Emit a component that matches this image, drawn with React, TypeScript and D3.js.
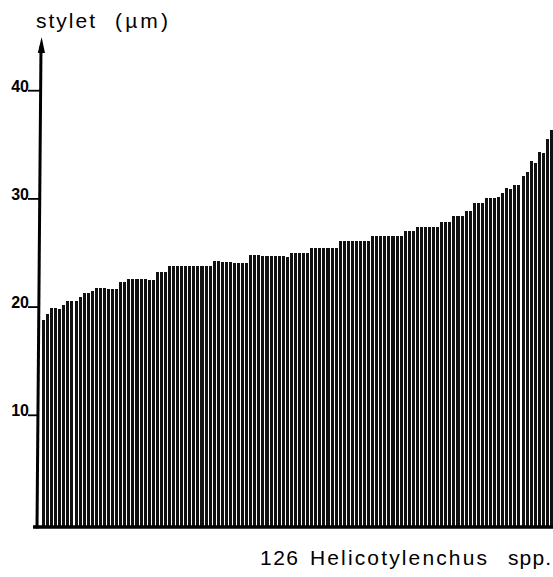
import React from "react";
import * as d3 from "d3";

// stylet length (µm) of 126 Helicotylenchus spp., sorted ascending
const styletValues: number[] = [
  18.8, 19.4, 19.9, 19.9, 19.8, 20.2, 20.6, 20.6, 20.6, 20.9,
  21.3, 21.3, 21.5, 21.8, 21.8, 21.8, 21.7, 21.7, 21.7, 22.3,
  22.3, 22.6, 22.6, 22.6, 22.6, 22.6, 22.5, 22.5, 23.2, 23.2,
  23.2, 23.8, 23.8, 23.8, 23.8, 23.8, 23.8, 23.8, 23.8, 23.8,
  23.8, 23.8, 24.3, 24.3, 24.2, 24.2, 24.2, 24.1, 24.1, 24.1,
  24.1, 24.8, 24.8, 24.8, 24.7, 24.7, 24.7, 24.7, 24.7, 24.7,
  24.6, 25.0, 25.0, 25.0, 25.0, 25.0, 25.5, 25.5, 25.5, 25.5,
  25.5, 25.5, 25.5, 26.1, 26.1, 26.1, 26.1, 26.1, 26.1, 26.1,
  26.1, 26.6, 26.6, 26.6, 26.6, 26.6, 26.6, 26.6, 26.6, 27.0,
  27.0, 27.0, 27.4, 27.4, 27.4, 27.4, 27.4, 27.4, 27.9, 27.9,
  27.9, 28.4, 28.4, 28.4, 28.9, 28.9, 29.6, 29.6, 29.6, 30.1,
  30.1, 30.1, 30.2, 30.5, 31.0, 30.9, 31.3, 31.3, 32.1, 32.5,
  33.5, 33.3, 34.3, 34.2, 35.5, 36.4,
];
const yTicks: number[] = [10, 20, 30, 40];
const yTitle = "stylet";
const yUnit = "(µm)";
const countLabel = "126";
const taxonLabel = "Helicotylenchus";
const sppLabel = "spp.";

const W = 553;
const H = 577;
const FONT = "'Liberation Sans', Arial, Helvetica, sans-serif";

export default function App() {
  const x = d3
    .scaleBand<number>()
    .domain(styletValues.map((_, i) => i))
    .range([42, 553])
    .paddingInner(0.25)
    .paddingOuter(0);
  const y = d3.scaleLinear().domain([0, 40]).range([523.5, 90.7]);
  const base = 527;

  return (
    <svg
      width={W}
      height={H}
      style={{ position: "absolute", left: 0, top: 0, background: "#fff" }}
    >
      <rect x={0} y={0} width={W} height={H} fill="#fff" />
      {/* bars */}
      <g fill="#111" shapeRendering="crispEdges">
        {styletValues.map((v, i) => (
          <rect
            key={i}
            x={x(i)!}
            y={y(v)}
            width={x.bandwidth()}
            height={base - y(v)}
          />
        ))}
      </g>
      {/* x axis */}
      <line x1={33} y1={527} x2={553} y2={527} stroke="#000" strokeWidth={3.5} />
      {/* y axis with arrow */}
      <line x1={37} y1={528.5} x2={41} y2={46} stroke="#000" strokeWidth={3} />
      <polygon points="41.6,37 37.8,53 45,53" fill="#000" />
      {/* ticks */}
      {yTicks.map((t) => {
        const ty = y(t);
        const ax = 37 + ((528.5 - ty) / (528.5 - 46)) * 4;
        return (
          <g key={t}>
            <line x1={28} y1={ty} x2={ax} y2={ty} stroke="#000" strokeWidth={1.8} />
            <text
              x={29}
              y={ty + 1}
              textAnchor="end"
              fontFamily={FONT}
              fontWeight="bold"
              fontSize={16}
              fill="#000"
            >
              {t}
            </text>
          </g>
        );
      })}
      {/* y title */}
      <text
        x={36}
        y={28}
        fontFamily={FONT}
        fontSize={21}
        fill="#000"
        textLength={59}
        lengthAdjust="spacing"
      >
        {yTitle}
      </text>
      <text
        x={115}
        y={28}
        fontFamily={FONT}
        fontSize={21}
        fill="#000"
        textLength={53}
        lengthAdjust="spacing"
      >
        {yUnit}
      </text>
      {/* bottom label */}
      <text
        x={260}
        y={565}
        fontFamily={FONT}
        fontSize={21}
        fill="#000"
        textLength={38}
        lengthAdjust="spacing"
      >
        {countLabel}
      </text>
      <text
        x={310}
        y={565}
        fontFamily={FONT}
        fontSize={21}
        fill="#000"
        textLength={177}
        lengthAdjust="spacing"
      >
        {taxonLabel}
      </text>
      <text
        x={508}
        y={565}
        fontFamily={FONT}
        fontSize={21}
        fill="#000"
        textLength={43}
        lengthAdjust="spacing"
      >
        {sppLabel}
      </text>
    </svg>
  );
}
